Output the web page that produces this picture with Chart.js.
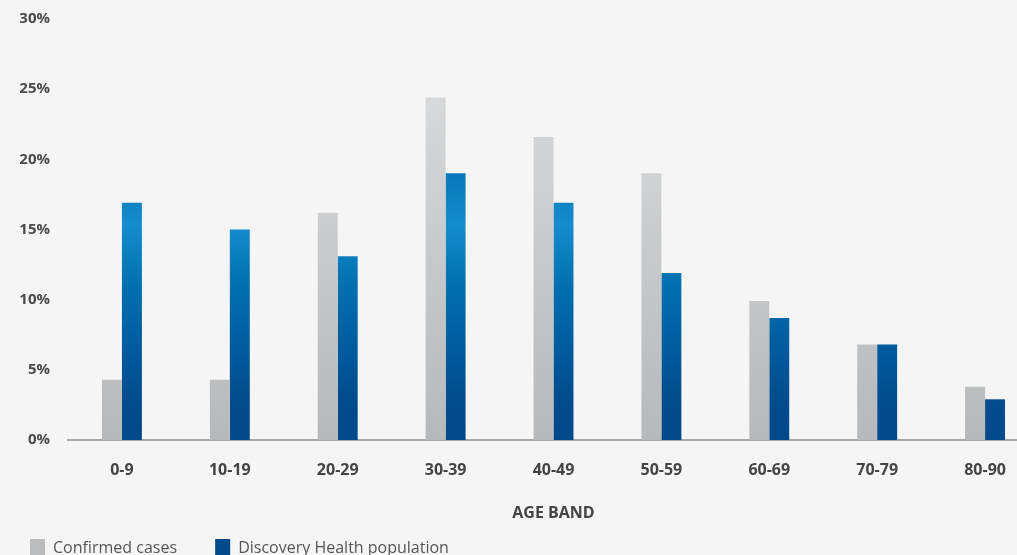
<!DOCTYPE html>
<html>
<head>
<meta charset="utf-8">
<script src="https://cdn.jsdelivr.net/npm/chart.js@4"></script>
<style>
  html, body { margin: 0; padding: 0; background: #f5f5f5; overflow: hidden; }
  #wrap { position: relative; width: 1040px; height: 567px; }
</style>
</head>
<body>
<div id="wrap"><canvas id="chart"></canvas></div>
<script>
// Age bands and share of each group (%)
const ageBands = ['0-9', '10-19', '20-29', '30-39', '40-49', '50-59', '60-69', '70-79', '80-90'];
const confirmedCases = [4.3, 4.3, 16.2, 24.4, 21.6, 19.0, 9.9, 6.8, 3.8];
const healthPopulation = [16.9, 15.0, 13.1, 19.0, 16.9, 11.9, 8.7, 6.8, 2.9];
const seriesNames = ['Confirmed cases', 'Discovery Health population'];
const yTicks = [0, 5, 10, 15, 20, 25, 30];

const FONT = "'Open Sans', 'Noto Sans', sans-serif";

function grayFill(context) {
  const area = context.chart.chartArea;
  if (!area) return '#c4c5c7';
  const g = context.chart.ctx.createLinearGradient(0, area.top, 0, area.bottom);
  g.addColorStop(0, '#dedfe0');
  g.addColorStop(1, '#b7b8ba');
  return g;
}

function blueFill(context) {
  const area = context.chart.chartArea;
  if (!area) return '#004a8c';
  const g = context.chart.ctx.createLinearGradient(0, area.top, 0, area.bottom);
  g.addColorStop(0, '#006db0');
  g.addColorStop(0.35, '#0575b6');
  g.addColorStop(0.49, '#168ccc');
  g.addColorStop(0.63, '#0070b0');
  g.addColorStop(0.79, '#005a9c');
  g.addColorStop(0.91, '#004b8d');
  g.addColorStop(1, '#004a8c');
  return g;
}

const legendSolid = ['#bbbcbe', '#004a8c'];

new Chart(document.getElementById('chart'), {
  type: 'bar',
  data: {
    labels: ageBands,
    datasets: [
      { label: seriesNames[0], data: confirmedCases, backgroundColor: grayFill },
      { label: seriesNames[1], data: healthPopulation, backgroundColor: blueFill }
    ]
  },
  options: {
    responsive: true,
    maintainAspectRatio: false,
    animation: false,
    datasets: { bar: { barPercentage: 1.0, categoryPercentage: 0.37 } },
    layout: { padding: { left: 20, right: 1, top: 19, bottom: 0 } },
    scales: {
      x: {
        grid: { display: false, drawTicks: false },
        border: { display: true, color: '#a8a8a8', width: 2 },
        ticks: { color: '#444444', font: { family: FONT, size: 16, weight: '700' }, padding: 21, maxRotation: 0 },
        title: {
          display: true, text: 'AGE BAND', color: '#444444',
          font: { family: FONT, size: 16, weight: '700' },
          padding: { top: 23, bottom: 6.4 }
        },
        afterFit(scale) { scale.height = 89; }
      },
      y: {
        min: yTicks[0],
        max: yTicks[yTicks.length - 1],
        grid: { display: false, drawTicks: false },
        border: { display: false },
        afterBuildTicks(scale) { scale.ticks = yTicks.map(v => ({ value: v })); },
        ticks: {
          color: '#4a4a4a',
          font: { family: FONT, size: 15, weight: '700' },
          padding: 18,
          callback: v => v + '%'
        },
        afterFit(scale) {
          scale.width = 48;
          scale.paddingTop = 9;
          scale.paddingBottom = 9;
        }
      }
    },
    plugins: {
      tooltip: { enabled: false },
      legend: {
        position: 'bottom',
        align: 'start',
        labels: {
          boxWidth: 15,
          boxHeight: 18,
          padding: 10,
          color: '#555555',
          font: { family: FONT, size: 16, weight: '400' },
          generateLabels(chart) {
            const items = Chart.defaults.plugins.legend.labels.generateLabels(chart);
            return items.map((it, i) => Object.assign(it, {
              text: i < items.length - 1 ? it.text + '\u2003\u2002 ' : it.text,
              fillStyle: legendSolid[i],
              strokeStyle: legendSolid[i],
              lineWidth: 0
            }));
          }
        }
      }
    }
  }
});
</script>
</body>
</html>
